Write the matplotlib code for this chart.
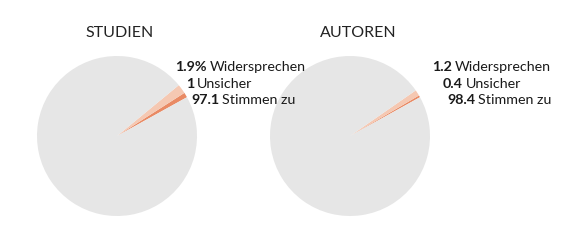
import matplotlib
matplotlib.use('Agg')
import matplotlib.pyplot as plt

plt.rcParams['font.family'] = ['Lato', 'DejaVu Sans']

# data
titles = ['STUDIEN', 'AUTOREN']
categories = ['Unsicher', 'Widersprechen', 'Stimmen zu']
studien = [1.0, 1.9, 97.1]
autoren = [0.4, 1.2, 98.4]
label_nums = [['1.9%', '1', '97.1'], ['1.2', '0.4', '98.4']]
label_txt = ['Widersprechen', 'Unsicher', 'Stimmen zu']

colors = ['#e98a64', '#f5c8b2', '#e6e6e6']

W, H = 582, 240
fig = plt.figure(figsize=(W / 100, H / 100), dpi=100)

def px(x, y):
    return x / W, 1 - y / H

centers = [(117, 136), (350, 136)]
r = 80
title_x = [120, 358]
label_x = [[175, 186, 191], [432, 443, 447]]
label_y = [67, 84, 100]

for i, vals in enumerate([studien, autoren]):
    cx, cy = centers[i]
    ax = fig.add_axes([(cx - r) / W, 1 - (cy + r) / H, 2 * r / W, 2 * r / H])
    ax.pie(vals, colors=colors, startangle=29, counterclock=True, radius=1,
           wedgeprops=dict(linewidth=0))
    ax.set_xlim(-1, 1)
    ax.set_ylim(-1, 1)
    ax.set_aspect('equal')
    ax.axis('off')
    fig.text(*px(title_x[i], 33), titles[i], ha='center', va='center',
             fontsize=11.5, color='#222222')

fig.canvas.draw()
renderer = fig.canvas.get_renderer()
for i in range(2):
    for j in range(3):
        t = fig.text(*px(label_x[i][j], label_y[j]), label_nums[i][j],
                     ha='left', va='center', fontsize=10.3, fontweight='bold',
                     color='#1a1a1a')
        bb = t.get_window_extent(renderer)
        fig.text((bb.x1 + 3) / W, 1 - label_y[j] / H, label_txt[j],
                 ha='left', va='center', fontsize=10.3, color='#1a1a1a')

fig.savefig('out.png', dpi=100, facecolor='white')
